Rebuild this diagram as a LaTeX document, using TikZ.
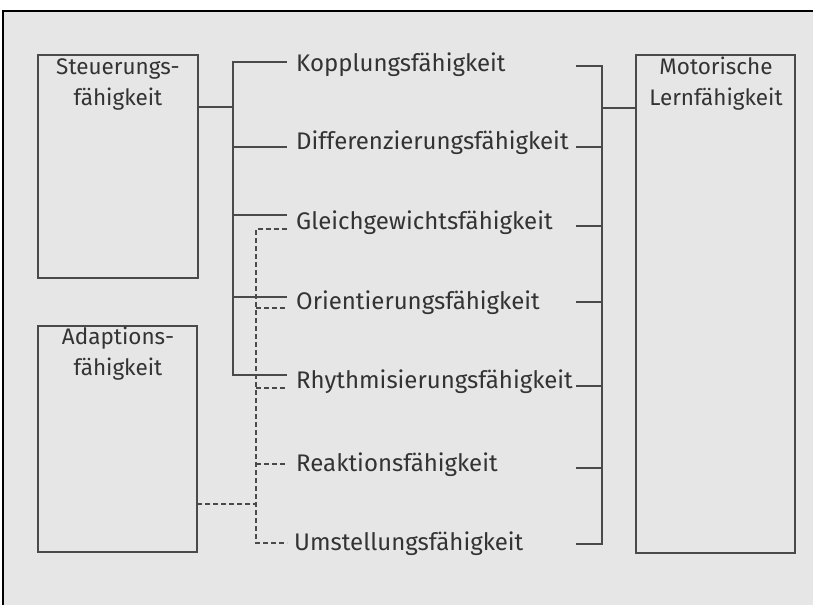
\documentclass[tikz,border=0pt]{standalone}
\usepackage{fontspec}
\setmainfont{Fira Sans}
\definecolor{bg}{HTML}{E6E6E6}
\definecolor{ln}{HTML}{4A4A4A}
\definecolor{tx}{HTML}{333333}
\begin{document}
\begin{tikzpicture}[x=1pt,y=-1pt,
  box/.style={draw=ln,line width=1.5pt},
  boxtext/.style={text=tx,font=\fontsize{22.5}{31}\selectfont,align=center,anchor=base},
  lab/.style={text=tx,font=\fontsize{24}{28}\selectfont,anchor=base west,inner sep=0pt},
  solid line/.style={draw=ln,line width=1.3pt},
  dash line/.style={draw=ln,line width=1.3pt,dash pattern=on 5pt off 3pt}]
\useasboundingbox (0,0) rectangle (813,605);
\fill[white] (0,0) rectangle (813,605);
\fill[bg] (3,11) rectangle (813,605);
\draw[black,line width=2pt] (3,605) -- (3,11) -- (813,11);
% boxes
\draw[box] (38,55) rectangle (198,278) coordinate (sbr);
\node[boxtext] (st) at (118,105) {Steuerungs-\\fähigkeit};
\draw[box] (38,326) rectangle (197,552);
\node[boxtext] (ad) at (118,375) {Adaptions-\\fähigkeit};
\draw[box] (636,55) rectangle (795,553);
\node[boxtext] (ml) at (716,105) {Motorische\\Lernfähigkeit};
% labels
\node[lab] (k) at (296,71) {Kopplungsfähigkeit};
\node[lab] (d) at (296,149) {Differenzierungsfähigkeit};
\node[lab] (g) at (296,229) {Gleichgewichtsfähigkeit};
\node[lab] (o) at (296,309) {Orientierungsfähigkeit};
\node[lab] (r) at (296,388) {Rhythmisierungsfähigkeit};
\node[lab] (re) at (296,471) {Reaktionsfähigkeit};
\node[lab] (u) at (294,550) {Umstellungsfähigkeit};
% spine coordinates
\coordinate (sT) at (233,62);
\coordinate (sB) at (233,375);
\coordinate (aT) at (256,229);
\coordinate (aB) at (256,543);
\coordinate (mT) at (602,66);
\coordinate (mB) at (602,544);
% solid bracket (Steuerung)
\draw[solid line] (198,107) -- (233,107);
\draw[solid line] (287,62) -- (sT) -- (sB) -- (287,375);
\foreach \y in {147,215,297} \draw[solid line] (233,\y) -- (287,\y);
% dashed bracket (Adaption)
\draw[dash line] (197,504) -- (256,504);
\draw[dash line] (287,229) -- (aT) -- (aB) -- (287,543);
\foreach \y in {308,388,464} \draw[dash line] (256,\y) -- (287,\y);
% right bracket
\draw[solid line] (576,66) -- (mT) -- (mB) -- (576,544);
\foreach \y in {147,226,302,386,468} \draw[solid line] (576,\y) -- (602,\y);
\draw[solid line] (602,108) -- (636,108);
\end{tikzpicture}
\end{document}
